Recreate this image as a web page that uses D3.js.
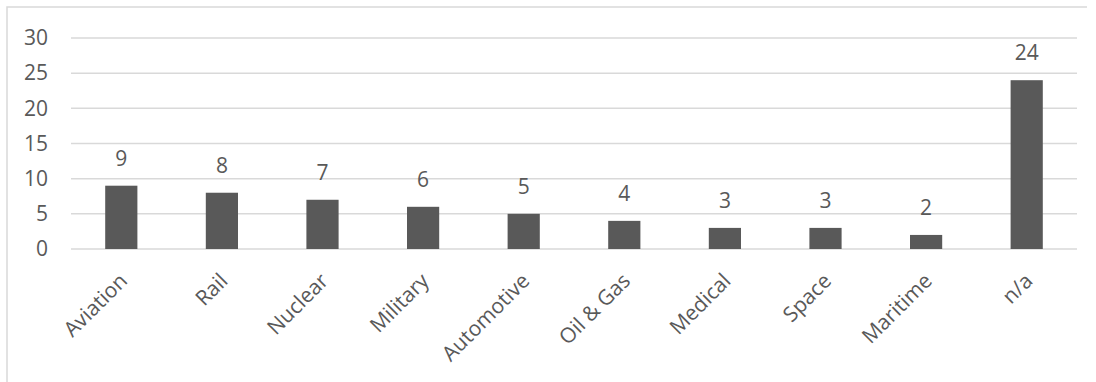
<!DOCTYPE html>
<html>
<head>
<meta charset="utf-8">
<script src="https://cdn.jsdelivr.net/npm/d3@7"></script>
<style>
html,body{margin:0;padding:0;background:#fff;}
svg{display:block;}
text{font-family:"Open Sans","Segoe UI",sans-serif;fill:#595959;}
</style>
</head>
<body>
<svg id="chart" width="1096" height="382"></svg>
<script>
const categories = ["Aviation","Rail","Nuclear","Military","Automotive","Oil & Gas","Medical","Space","Maritime","n/a"];
const values = [9,8,7,6,5,4,3,3,2,24];
const yTicks = [0,5,10,15,20,25,30];

const W = 1096, H = 382;
const m = {left:71, right:1077, top:38, bottom:249};
const FS = "21px";
const svg = d3.select("#chart");

// chart border (top and left visible)
svg.append("path")
  .attr("d", `M7,${H+5} L7,7 L1087,7`)
  .attr("fill","none").attr("stroke","#d9d9d9").attr("stroke-width",1.5);

const x = d3.scaleBand().domain(categories).range([m.left, m.right]).paddingInner(0.68).paddingOuter(0.34);
const y = d3.scaleLinear().domain([0,30]).range([m.bottom, m.top]);

// gridlines
svg.append("g").selectAll("line").data(yTicks).join("line")
  .attr("x1", m.left).attr("x2", m.right)
  .attr("y1", d=>y(d)).attr("y2", d=>y(d))
  .attr("stroke","#d9d9d9").attr("stroke-width",1.5);

// y axis labels
const yAxis = d3.axisLeft(y).tickValues(yTicks).tickSize(0).tickPadding(0);
const gy = svg.append("g").attr("transform",`translate(48,0)`).call(yAxis);
gy.select(".domain").remove();
gy.selectAll("text").attr("font-size",FS).attr("fill","#595959")
  .style("font-family","'Open Sans',sans-serif");

// bars
svg.append("g").selectAll("rect").data(values).join("rect")
  .attr("x",(d,i)=>x(categories[i]))
  .attr("width", x.bandwidth())
  .attr("y", d=>y(d))
  .attr("height", d=>y(0)-y(d))
  .attr("fill","#595959");

// value labels
svg.append("g").selectAll("text").data(values).join("text")
  .attr("x",(d,i)=>x(categories[i])+x.bandwidth()/2)
  .attr("y", d=>y(d)-20)
  .attr("text-anchor","middle")
  .attr("font-size",FS)
  .text(d=>d);

// x axis labels
const xAxis = d3.axisBottom(x).tickSize(0).tickPadding(0);
const gx = svg.append("g").attr("transform",`translate(0,${m.bottom})`).call(xAxis);
gx.select(".domain").remove();
gx.selectAll("text")
  .attr("font-size",FS).attr("fill","#595959")
  .style("font-family","'Open Sans',sans-serif")
  .attr("text-anchor","end")
  .attr("dy","0.35em")
  .attr("y",0)
  .attr("transform","translate(2,28) rotate(-45)");
</script>
</body>
</html>
